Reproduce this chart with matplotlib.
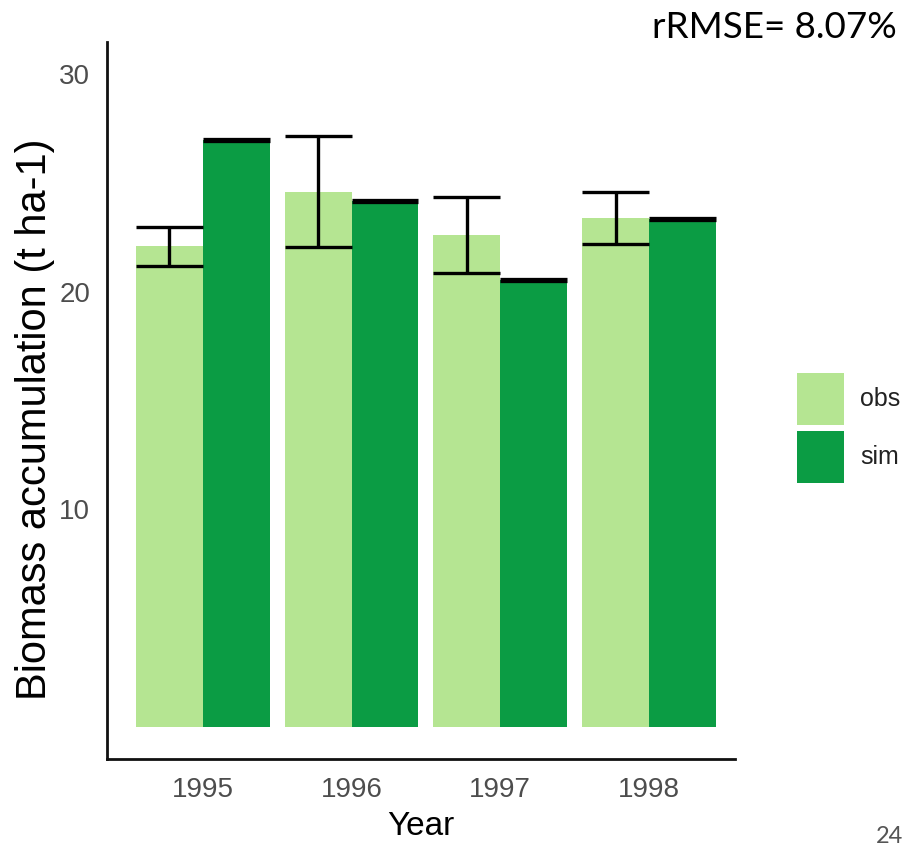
import matplotlib
matplotlib.use("Agg")
import matplotlib.pyplot as plt
from matplotlib.patches import Rectangle
import numpy as np

# Biomass accumulation per year: observed (mean ± sd) vs simulated
years = ["1995", "1996", "1997", "1998"]
obs = [22.1, 24.6, 22.6, 23.4]
obs_sd = [0.9, 2.55, 1.75, 1.2]
sim = [27.0, 24.2, 20.55, 23.35]
series = ["obs", "sim"]
colors = {"obs": "#b5e592", "sim": "#0b9c44"}
y_ticks = [10, 20, 30]
stat_text = "rRMSE= 8.07%"
page_no = "24"

W, H = 908, 846
fig = plt.figure(figsize=(W / 100, H / 100), dpi=100)
fig.patch.set_facecolor("white")

ax = fig.add_axes([107 / W, 1 - 759 / H, (735 - 107) / W, (759 - 42) / H])

x = np.arange(1, len(years) + 1)
bw = 0.45
x_obs = x - bw / 2
x_sim = x + bw / 2

ax.bar(x_obs, obs, width=bw, color=colors["obs"], linewidth=0, zorder=2)
ax.bar(x_sim, sim, width=bw, color=colors["sim"], linewidth=0, zorder=2)

# error bars spanning the full bar width
lo = np.array(obs) - np.array(obs_sd)
hi = np.array(obs) + np.array(obs_sd)
ax.vlines(x_obs, lo, hi, color="black", linewidth=2.4, zorder=3)
ax.hlines(lo, x_obs - bw / 2, x_obs + bw / 2, color="black", linewidth=2.4, zorder=3)
ax.hlines(hi, x_obs - bw / 2, x_obs + bw / 2, color="black", linewidth=2.4, zorder=3)
ax.hlines(sim, x_sim - bw / 2, x_sim + bw / 2, color="black", linewidth=3.8, zorder=3)

ax.set_xlim(0.356, 4.578)
ax.set_ylim(-1.47, 31.49)

for side in ["top", "right"]:
    ax.spines[side].set_visible(False)
for side in ["left", "bottom"]:
    ax.spines[side].set_linewidth(2.0)
    ax.spines[side].set_color("#111111")

font = "Liberation Sans"
ax.set_xticks(x)
ax.set_xticklabels(years)
ax.set_yticks(y_ticks)
ax.set_yticklabels([str(v) for v in y_ticks])
ax.tick_params(axis="both", length=0, labelsize=20, labelcolor="#4d4d4d")
ax.tick_params(axis="y", pad=12)
ax.tick_params(axis="x", pad=13)
for lab in ax.get_xticklabels() + ax.get_yticklabels():
    lab.set_fontfamily(font)

ax.set_xlabel("Year", fontsize=24, fontfamily=font, color="black")
ax.set_ylabel("Biomass accumulation (t ha-1)", fontsize=30, fontfamily=font, color="black")
ax.xaxis.set_label_coords(0.5, (759 - 826) / 717)
ax.xaxis.label.set_va("center")
ax.yaxis.set_label_coords((35 - 107) / 628, (759 - 419) / 717)
ax.yaxis.label.set_va("center")

# legend keys
key_x, key_w, key_h = 797, 47, 52
for name, top in zip(series, [373, 431]):
    fig.patches.append(Rectangle((key_x / W, 1 - (top + key_h) / H), key_w / W, key_h / H,
                                 transform=fig.transFigure, facecolor=colors[name],
                                 edgecolor="none"))
    fig.text(860 / W, 1 - (top + key_h / 2) / H, name, fontsize=18, fontfamily=font,
             color="#222222", ha="left", va="center")

fig.text(897 / W, 1 - 27 / H, stat_text, fontsize=26.5, fontfamily="Lato",
         color="black", ha="right", va="center")
fig.text(903 / W, 1 - 836 / H, page_no, fontsize=17, fontfamily="Lato",
         color="#555555", ha="right", va="center")

fig.savefig("out.png", dpi=100, facecolor="white")
